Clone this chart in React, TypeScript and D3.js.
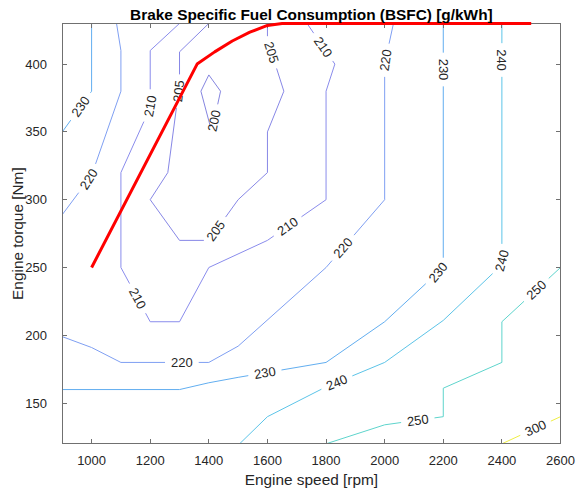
import React from "react";
import * as d3 from "d3";

type Pt = [number, number];

const W = 577;
const H = 496;

// Axis ticks
const xTicks = [1000, 1200, 1400, 1600, 1800, 2000, 2200, 2400, 2600];
const yTicks = [150, 200, 250, 300, 350, 400];

// Contour levels [g/kWh] and their line colours
const levels = [200, 205, 210, 220, 230, 240, 250, 300];
const levelColors = ["#8585e0", "#8787e6", "#8a8cec", "#7f9ff2", "#62aef0", "#5cc4e8", "#5ed4cc", "#eeee44"];

// Iso-BSFC lines, [engine speed rpm, torque Nm]
const bsfc200: Pt[] = [[1400, 392], [1440, 380], [1410, 350], [1373, 380], [1400, 392]];
const bsfc205: Pt[] = [
  [1400, 430], [1300, 409], [1300, 385], [1260, 320], [1200, 300], [1300, 270], [1400, 270],
  [1500, 300], [1600, 320], [1600, 350], [1656, 380], [1600, 418], [1600, 430],
];
const bsfc210: Pt[] = [
  [1300, 430], [1200, 410], [1200, 368], [1100, 320], [1100, 250], [1200, 210], [1300, 210],
  [1400, 250], [1600, 270], [1800, 300], [1800, 380], [1830, 400], [1735, 430],
];
const bsfc220: Pt[] = [
  [2030, 430], [2000, 400], [2000, 300], [1800, 250], [1500, 192], [1400, 180], [1100, 180],
  [1000, 191], [900, 199],
];
const bsfc220Left: Pt[] = [[1085, 430], [1100, 410], [1100, 380], [1000, 318], [900, 289]];
const bsfc230: Pt[] = [
  [2200, 430], [2200, 250], [2000, 210], [1800, 180], [1500, 169], [1400, 165], [1300, 160], [900, 160],
];
const bsfc230Left: Pt[] = [[1000, 430], [1000, 380], [900, 350]];
const bsfc230Edge: Pt[] = [[900, 430], [900, 410]];
const bsfc240: Pt[] = [
  [2400, 430], [2400, 252], [2200, 211], [2000, 180], [1800, 162], [1600, 140], [1505, 120],
];
const bsfc250: Pt[] = [
  [1800, 120], [2000, 134], [2200, 140], [2200, 161], [2400, 180], [2400, 210], [2600, 250],
];
const bsfc300: Pt[] = [[2400, 120], [2600, 140]];

const contourLines: { level: number; pts: Pt[] }[] = [
  { level: 200, pts: bsfc200 },
  { level: 205, pts: bsfc205 },
  { level: 210, pts: bsfc210 },
  { level: 220, pts: bsfc220 },
  { level: 220, pts: bsfc220Left },
  { level: 230, pts: bsfc230 },
  { level: 230, pts: bsfc230Left },
  { level: 230, pts: bsfc230Edge },
  { level: 240, pts: bsfc240 },
  { level: 250, pts: bsfc250 },
  { level: 300, pts: bsfc300 },
];

// Inline contour labels: level and approximate location [rpm, Nm]
const labelLevels = [200, 205, 205, 205, 210, 210, 210, 210, 220, 220, 220, 220, 230, 230, 230, 230, 240, 240, 240, 250, 250, 300];
const labelRpm = [1422, 1298, 1418, 1605, 1191, 1155, 1670, 1800, 2001, 1855, 1308, 985, 967, 1590, 2180, 2200, 2400, 2395, 1841, 2114, 2520, 2516];
const labelNm = [358, 380, 278, 408, 369, 227, 280, 414, 403, 265, 180, 316, 368, 174, 247, 396, 403, 255, 163, 136, 233, 131];

// Full-load (maximum torque) curve
const fullLoadRpm = [1000, 1360, 1420, 1480, 1540, 1600, 1650, 2500];
const fullLoadNm = [250, 400, 409, 417, 423.5, 428.5, 430, 430];

const FONT = "'Liberation Sans', Arial, Helvetica, sans-serif";
const TEXT = "#262626";

function cumulative(p: Pt[]): number[] {
  const c = [0];
  for (let i = 1; i < p.length; i++) c.push(c[i - 1] + Math.hypot(p[i][0] - p[i - 1][0], p[i][1] - p[i - 1][1]));
  return c;
}

function pointAt(p: Pt[], c: number[], s: number): Pt {
  if (s <= 0) return p[0];
  for (let i = 1; i < p.length; i++) {
    if (c[i] >= s) {
      const seg = c[i] - c[i - 1] || 1;
      const t = (s - c[i - 1]) / seg;
      return [p[i - 1][0] + t * (p[i][0] - p[i - 1][0]), p[i - 1][1] + t * (p[i][1] - p[i - 1][1])];
    }
  }
  return p[p.length - 1];
}

function project(p: Pt[], c: number[], q: Pt): { s: number; d: number } {
  let best = { s: 0, d: Infinity };
  for (let i = 1; i < p.length; i++) {
    const ax = p[i - 1][0], ay = p[i - 1][1];
    const bx = p[i][0], by = p[i][1];
    const dx = bx - ax, dy = by - ay;
    const L2 = dx * dx + dy * dy || 1;
    let t = ((q[0] - ax) * dx + (q[1] - ay) * dy) / L2;
    t = Math.max(0, Math.min(1, t));
    const px = ax + t * dx, py = ay + t * dy;
    const d = Math.hypot(q[0] - px, q[1] - py);
    if (d < best.d) best = { s: c[i - 1] + t * (c[i] - c[i - 1]), d };
  }
  return best;
}

function subPath(p: Pt[], c: number[], a: number, b: number): Pt[] {
  const out: Pt[] = [pointAt(p, c, a)];
  for (let i = 0; i < p.length; i++) if (c[i] > a && c[i] < b) out.push(p[i]);
  out.push(pointAt(p, c, b));
  return out;
}

export default function App() {
  const x = d3.scaleLinear().domain([900, 2600]).range([62.3, 560.5]);
  const y = d3.scaleLinear().domain([120, 430]).range([443.8, 23.4]);
  const [x0, x1] = x.range();
  const [y0, y1] = y.range();

  const labelFont = 13;
  const line = d3.line<Pt>().x((d) => d[0]).y((d) => d[1]);

  // Pixel-space polylines
  const lines = contourLines.map((cl) => {
    const px: Pt[] = cl.pts.map((d) => [x(d[0]), y(d[1])]);
    return { level: cl.level, px, cum: cumulative(px), gaps: [] as [number, number][] };
  });

  const labels = labelLevels.map((lev, i) => {
    const q: Pt = [x(labelRpm[i]), y(labelNm[i])];
    let bestLine = lines[0];
    let best = { s: 0, d: Infinity };
    lines.forEach((ln) => {
      if (ln.level !== lev) return;
      const r = project(ln.px, ln.cum, q);
      if (r.d < best.d) {
        best = r;
        bestLine = ln;
      }
    });
    const text = String(lev);
    const w = text.length * 0.556 * labelFont;
    const half = w / 2;
    bestLine.gaps.push([best.s - half - 6, best.s + half + 6]);
    const pos = pointAt(bestLine.px, bestLine.cum, best.s);
    const a = pointAt(bestLine.px, bestLine.cum, best.s - half);
    const b = pointAt(bestLine.px, bestLine.cum, best.s + half);
    let ang = (Math.atan2(b[1] - a[1], b[0] - a[0]) * 180) / Math.PI;
    if (ang > 90) ang -= 180;
    if (ang < -90) ang += 180;
    return { text, pos, ang };
  });

  const pieces: { level: number; pts: Pt[] }[] = [];
  lines.forEach((ln) => {
    const total = ln.cum[ln.cum.length - 1];
    const gaps = ln.gaps.slice().sort((g1, g2) => g1[0] - g2[0]);
    let start = 0;
    gaps.forEach(([ga, gb]) => {
      if (ga > start) pieces.push({ level: ln.level, pts: subPath(ln.px, ln.cum, start, Math.min(ga, total)) });
      start = Math.max(start, gb);
    });
    if (start < total) pieces.push({ level: ln.level, pts: subPath(ln.px, ln.cum, start, total) });
  });

  const colorOf = (lev: number) => levelColors[levels.indexOf(lev)];

  const fullLoad: Pt[] = fullLoadRpm.map((r, i) => [x(r), y(fullLoadNm[i])]);
  const tickLen = 5;
  const axisColor = "#707070";

  return (
    <svg
      width={W}
      height={H}
      style={{ position: "absolute", left: 0, top: 0, background: "#fff" }}
      fontFamily={FONT}
    >
      <defs>
        <clipPath id="plotArea">
          <rect x={x0} y={y1} width={x1 - x0} height={y0 - y1} />
        </clipPath>
      </defs>
      <rect x={0} y={0} width={W} height={H} fill="#fff" />

      <g clipPath="url(#plotArea)">
        {pieces.map((pc, i) => (
          <path key={i} d={line(pc.pts) || ""} fill="none" stroke={colorOf(pc.level)} strokeWidth={1} />
        ))}
      </g>

      {labels.map((lb, i) => (
        <text
          key={i}
          x={lb.pos[0]}
          y={lb.pos[1]}
          transform={`rotate(${lb.ang} ${lb.pos[0]} ${lb.pos[1]})`}
          textAnchor="middle"
          dominantBaseline="central"
          fontSize={labelFont}
          fill={TEXT}
        >
          {lb.text}
        </text>
      ))}

      {/* axes box */}
      <g stroke={axisColor} strokeWidth={1} fill="none" shapeRendering="crispEdges">
        <rect x={x0} y={y1} width={x1 - x0} height={y0 - y1} />
        {xTicks.map((t) => (
          <g key={`xt${t}`}>
            <line x1={x(t)} x2={x(t)} y1={y0} y2={y0 - tickLen} />
            <line x1={x(t)} x2={x(t)} y1={y1} y2={y1 + tickLen} />
          </g>
        ))}
        {yTicks.map((t) => (
          <g key={`yt${t}`}>
            <line x1={x0} x2={x0 + tickLen} y1={y(t)} y2={y(t)} />
            <line x1={x1} x2={x1 - tickLen} y1={y(t)} y2={y(t)} />
          </g>
        ))}
      </g>

      {/* full-load curve */}
      <path d={line(fullLoad) || ""} fill="none" stroke="#ff0000" strokeWidth={3} strokeLinejoin="round" />

      {xTicks.map((t) => (
        <text key={`xl${t}`} x={x(t)} y={465} textAnchor="middle" fontSize={13} fill={TEXT}>
          {t}
        </text>
      ))}
      {yTicks.map((t) => (
        <text key={`yl${t}`} x={47} y={y(t)} dy="0.35em" textAnchor="end" fontSize={13} fill={TEXT}>
          {t}
        </text>
      ))}

      <text x={(x0 + x1) / 2} y={484.5} textAnchor="middle" fontSize={15.4} fill={TEXT}>
        Engine speed [rpm]
      </text>
      <text
        x={23.5}
        y={(y0 + y1) / 2}
        transform={`rotate(-90 23.5 ${(y0 + y1) / 2})`}
        textAnchor="middle"
        fontSize={15.4}
        fill={TEXT}
      >
        Engine torque [Nm]
      </text>
      <text x={(x0 + x1) / 2} y={19.5} textAnchor="middle" fontSize={15.4} fontWeight="bold" fill="#000">
        Brake Specific Fuel Consumption (BSFC) [g/kWh]
      </text>
    </svg>
  );
}
